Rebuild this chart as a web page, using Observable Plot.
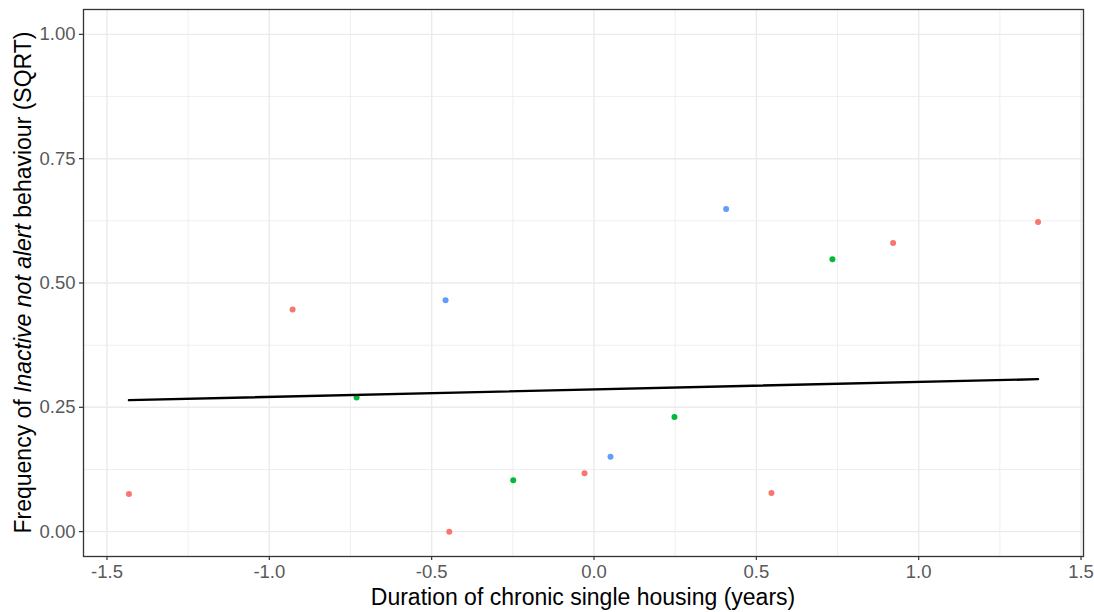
<!DOCTYPE html>
<html>
<head>
<meta charset="utf-8">
<script src="https://cdn.jsdelivr.net/npm/d3@7"></script>
<script src="https://cdn.jsdelivr.net/npm/@observablehq/plot@0.6"></script>
<style>
  body { margin: 0; background: #fff; }
  #chart svg { display: block; }
</style>
</head>
<body>
<div id="chart"></div>
<script>
// Duration of chronic single housing (years, centred) per animal
const duration = [-1.4323, -0.9283, -0.7312, -0.4572, -0.4458, -0.2488, -0.0292,
                  0.0508, 0.2478, 0.4070, 0.5465, 0.7343, 0.9212, 1.3676];
// Square-root frequency of inactive-not-alert behaviour
const inactive = [0.0757, 0.4466, 0.2699, 0.4653, 0.0000, 0.1032, 0.1173,
                  0.1506, 0.2303, 0.6486, 0.0777, 0.5476, 0.5803, 0.6225];
// Group of each animal
const group = ["A", "A", "B", "C", "A", "B", "A",
               "C", "B", "C", "A", "B", "A", "A"];
const groupNames = ["A", "B", "C"];
const groupColours = ["#F8766D", "#00BA38", "#619CFF"];

// Fitted trend line end points
const fitDuration = [-1.4323, 1.3676];
const fitInactive = [0.2645, 0.3066];

// Axis ticks
const xTicks = [-1.5, -1.0, -0.5, 0.0, 0.5, 1.0, 1.5];
const xMinor = [-1.25, -0.75, -0.25, 0.25, 0.75, 1.25];
const yTicks = [0, 0.25, 0.5, 0.75, 1];
const yMinor = [0.125, 0.375, 0.625, 0.875];

const points = duration.map((d, i) => ({x: d, y: inactive[i], g: group[i]}));
const fit = fitDuration.map((d, i) => ({x: d, y: fitInactive[i]}));

// 5% padding around the data range on x, as in the panel
const [xmin, xmax] = d3.extent(duration);
const pad = 0.05 * (xmax - xmin);

const W = 1094, H = 612;
const mL = 83, mR = 11, mT = 9, mB = 56;
const font = "'Liberation Sans', Arial, sans-serif";
const gridCol = "#EBEBEB";

const chart = Plot.plot({
  width: W,
  height: H,
  marginLeft: mL,
  marginRight: mR,
  marginTop: mT,
  marginBottom: mB,
  x: {domain: [xmin - pad, xmax + pad]},
  y: {domain: [-0.05, 1.05]},
  color: {domain: groupNames, range: groupColours},
  style: {fontFamily: font, background: "#fff", overflow: "visible"},
  marks: [
    Plot.gridX(xMinor, {stroke: gridCol, strokeOpacity: 1, strokeWidth: 0.8}),
    Plot.gridY(yMinor, {stroke: gridCol, strokeOpacity: 1, strokeWidth: 0.8}),
    Plot.gridX(xTicks, {stroke: gridCol, strokeOpacity: 1, strokeWidth: 1.4}),
    Plot.gridY(yTicks, {stroke: gridCol, strokeOpacity: 1, strokeWidth: 1.4}),
    Plot.axisX(xTicks, {
      tickSize: 4, tickPadding: 4, stroke: "#333", fill: "#595959",
      fontSize: 18.5, strokeWidth: 1.2, tickFormat: d => d.toFixed(1), label: null
    }),
    Plot.axisY(yTicks, {
      tickSize: 4, tickPadding: 4, stroke: "#333", fill: "#595959",
      fontSize: 18.5, strokeWidth: 1.2, tickFormat: d => d.toFixed(2), label: null
    }),
    Plot.dot(points, {x: "x", y: "y", fill: "g", r: 3}),
    Plot.line(fit, {x: "x", y: "y", stroke: "black", strokeWidth: 2.4}),
    Plot.frame({stroke: "#333", strokeWidth: 1.3})
  ]
});

document.getElementById("chart").appendChild(chart);

// Axis titles (y title mixes upright and italic text)
const svg = d3.select(chart);
const panelCx = mL + (W - mL - mR) / 2;
const panelCy = mT + (H - mT - mB) / 2;

svg.append("text")
  .attr("x", panelCx)
  .attr("y", 605)
  .attr("text-anchor", "middle")
  .attr("font-family", font)
  .attr("font-size", 23)
  .attr("fill", "#000")
  .text("Duration of chronic single housing (years)");

const yt = svg.append("text")
  .attr("transform", `translate(31,${panelCy}) rotate(-90)`)
  .attr("text-anchor", "middle")
  .attr("font-family", font)
  .attr("font-size", 23)
  .attr("fill", "#000");
yt.append("tspan").text("Frequency of ");
yt.append("tspan").attr("font-style", "italic").text("Inactive not alert");
yt.append("tspan").text(" behaviour (SQRT)");
</script>
</body>
</html>
